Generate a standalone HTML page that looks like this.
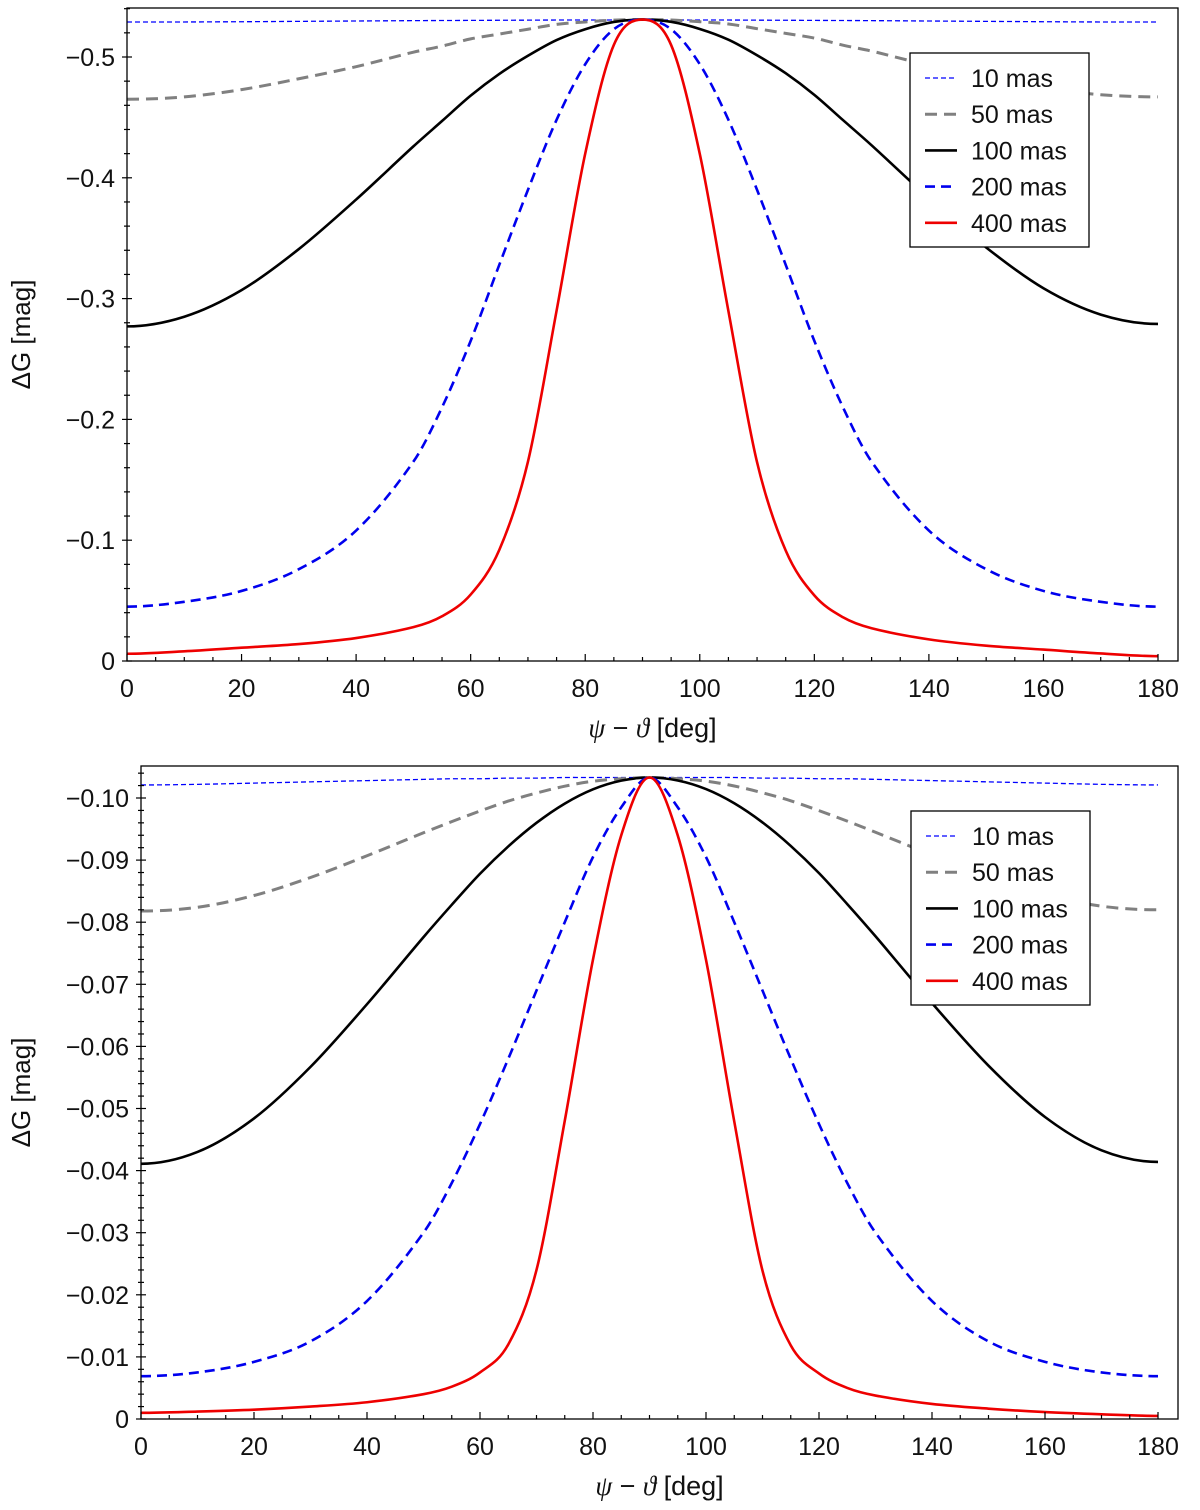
<!DOCTYPE html>
<html><head><meta charset="utf-8"><style>
body{margin:0;background:#fff}
svg text{font-family:"Liberation Sans","DejaVu Sans",sans-serif;fill:#111}
</style></head><body>
<svg id="c" width="1200" height="1505" viewBox="0 0 1200 1505" xmlns="http://www.w3.org/2000/svg"></svg>
<script>
const xs=[0,10,20,30,40,50,55,60,65,70,75,80,85,90];
const series=["10 mas","50 mas","100 mas","200 mas","400 mas"];
const top10=[-0.529,-0.529,-0.5292,-0.5295,-0.5298,-0.5301,-0.5302,-0.5303,-0.5304,-0.5305,-0.5306,-0.5306,-0.5306,-0.5306];
const top50=[-0.465,-0.467,-0.473,-0.482,-0.492,-0.504,-0.509,-0.515,-0.519,-0.523,-0.527,-0.529,-0.5305,-0.531];
const top100=[-0.277,-0.285,-0.307,-0.341,-0.382,-0.426,-0.447,-0.468,-0.486,-0.501,-0.514,-0.523,-0.529,-0.531];
const top200=[-0.045,-0.049,-0.058,-0.076,-0.108,-0.165,-0.210,-0.265,-0.328,-0.390,-0.448,-0.494,-0.523,-0.531];
const top400=[-0.006,-0.008,-0.011,-0.014,-0.019,-0.028,-0.037,-0.055,-0.092,-0.165,-0.290,-0.420,-0.510,-0.531];
const topEnd=[-0.529,-0.467,-0.279,-0.045,-0.004];
const bot10=[-0.1021,-0.1022,-0.1024,-0.1026,-0.1028,-0.1030,-0.1031,-0.1031,-0.1032,-0.1032,-0.1033,-0.1033,-0.1033,-0.1033];
const bot50=[-0.0818,-0.0824,-0.0843,-0.0872,-0.0907,-0.0944,-0.0962,-0.0979,-0.0995,-0.1008,-0.1019,-0.1027,-0.1031,-0.1033];
const bot100=[-0.0411,-0.0430,-0.0484,-0.0567,-0.0668,-0.0776,-0.0828,-0.0878,-0.0922,-0.0960,-0.0991,-0.1014,-0.1028,-0.1033];
const bot200=[-0.0069,-0.0075,-0.0092,-0.0125,-0.0190,-0.0300,-0.0380,-0.0475,-0.0580,-0.0690,-0.0800,-0.0905,-0.0985,-0.1033];
const bot400=[-0.0010,-0.0012,-0.0015,-0.0020,-0.0027,-0.0040,-0.0052,-0.0075,-0.0120,-0.0240,-0.0480,-0.0740,-0.0940,-0.1033];
const botEnd=[-0.1021,-0.082,-0.0414,-0.0069,-0.0005];
const xTicks=[0,20,40,60,80,100,120,140,160,180];
const topYTicks=[0,-0.1,-0.2,-0.3,-0.4,-0.5];
const botYTicks=[0,-0.01,-0.02,-0.03,-0.04,-0.05,-0.06,-0.07,-0.08,-0.09,-0.10];
const styles=[{c:"#0000ff",w:1.3,d:"5,3"},{c:"#808080",w:3,d:"12,7"},{c:"#000",w:2.6,d:""},{c:"#0000ee",w:2.6,d:"10,6"},{c:"#ee0000",w:2.6,d:""}];
const NS="http://www.w3.org/2000/svg";
const svg=document.getElementById('c');
function mk(t,a,p){const e=document.createElementNS(NS,t);for(const k in a)e.setAttribute(k,a[k]);(p||svg).appendChild(e);return e;}
function fmt(v,dec){if(v===0)return "0";return "\u2212"+Math.abs(v).toFixed(dec);}
function full(arr,end){const x=xs.slice(),y=arr.slice();const n=arr[0]-end;for(let i=xs.length-2;i>=0;i--){x.push(180-xs[i]);y.push(arr[i]-n*(1-xs[i]/90));}return [x,y];}
function path(pts){
  const N=pts.length;
  const m=pts.map((p,i)=>{if(i===0||i===N-1)return 0;const a=pts[i-1],b=pts[i+1];return (b[1]-a[1])/(b[0]-a[0]);});
  let d="M"+pts[0][0]+","+pts[0][1];
  for(let i=0;i<N-1;i++){const p1=pts[i],p2=pts[i+1],h=(p2[0]-p1[0])/3;
    d+=" C"+(p1[0]+h)+","+(p1[1]+m[i]*h)+" "+(p2[0]-h)+","+(p2[1]-m[i+1]*h)+" "+p2[0]+","+p2[1];}
  return d;}
function panel(o){
  const g=mk('g',{});
  
  
  const X=v=>o.x0+(v/180)*(o.x180-o.x0), Y=v=>o.y0+(v/o.yRef)*(o.yRefPx-o.y0);
  const dataG=mk('g',{},g);
  o.data.forEach((arr,i)=>{const [fx,fy]=full(arr,o.end[i]);const pts=fx.map((x,j)=>[X(x),Y(fy[j])]);
    const s=styles[i];const p=mk('path',{d:path(pts),fill:'none',stroke:s.c,'stroke-width':s.w,'stroke-dasharray':s.d},dataG);
    
    });
  const fr=mk('rect',{x:o.L,y:o.T,width:o.R-o.L,height:o.B-o.T,fill:'none',stroke:'#000','stroke-width':1.3},g);
  
  
  for(let v=0;v<=180;v+=5){const x=X(v),maj=v%20===0;mk('line',{x1:x,x2:x,y1:o.B,y2:o.B-(maj?7:4),stroke:'#000','stroke-width':1.2},g);}
  xTicks.forEach(v=>{const t=mk('text',{x:X(v),y:o.B+36,'text-anchor':'middle','font-size':25},g);t.textContent=v;});
  const n=Math.round(Math.abs(o.ymin)/o.minor);
  for(let k=0;k<=n;k++){const v=-k*o.minor,y=Y(v);if(y<o.T)break;const maj=k%o.per===0;mk('line',{x1:o.L-(maj?5:3),x2:o.L+(maj?5:3),y1:y,y2:y,stroke:'#000','stroke-width':1.2},g);}
  o.yt.forEach(v=>{const t=mk('text',{x:o.L-12,y:Y(v)+9,'text-anchor':'end','font-size':25},g);t.textContent=fmt(v,o.dec);});
  const xl=mk('text',{x:(o.L+o.R)/2,y:o.B+76,'text-anchor':'middle','font-size':27},g);
  xl.innerHTML='<tspan font-family="Liberation Serif" font-style="italic">ψ</tspan> − <tspan font-family="Liberation Serif" font-style="italic">ϑ</tspan> [deg]';
  
  const cy=(o.T+o.B)/2;
  const yl=mk('text',{x:0,y:0,transform:`translate(30,${cy}) rotate(-90)`,'text-anchor':'middle','font-size':26},g);
  yl.textContent='ΔG [mag]';
  
  const lg=mk('g',{},g);
  
  mk('rect',{x:o.lx,y:o.ly,width:179,height:194,fill:'#fff',stroke:'#000','stroke-width':1.3},lg);
  series.forEach((s,i)=>{const y=o.ly+25+i*36.2,st=styles[i];
    const e=mk('g',{},lg);
    
    
    mk('line',{x1:o.lx+15,x2:o.lx+47,y1:y,y2:y,stroke:st.c,'stroke-width':st.w,'stroke-dasharray':st.d},e);
    const t=mk('text',{x:o.lx+61,y:y+9,'font-size':25},e);t.textContent=s;});
}
panel({name:'top-panel',L:127,R:1178,T:8,B:661,x0:127,x180:1158,y0:661,yRef:-0.5,yRefPx:57,ymin:-0.54,minor:0.02,per:5,yt:topYTicks,dec:1,
  data:[top10,top50,top100,top200,top400],end:topEnd,lx:910,ly:53});
panel({name:'bottom-panel',L:141,R:1178,T:766,B:1419,x0:141,x180:1158,y0:1419,yRef:-0.1,yRefPx:798,ymin:-0.106,minor:0.002,per:5,yt:botYTicks,dec:2,
  data:[bot10,bot50,bot100,bot200,bot400],end:botEnd,lx:911,ly:811});
</script>
</body></html>
